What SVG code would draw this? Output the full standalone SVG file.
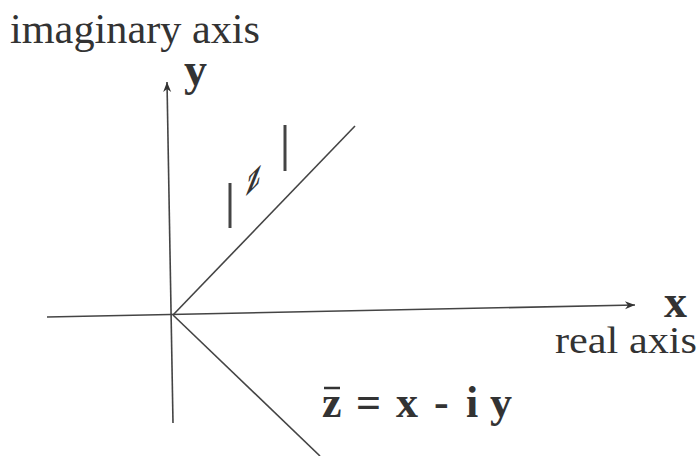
<svg xmlns="http://www.w3.org/2000/svg" width="699" height="456" viewBox="0 0 699 456">
<defs>
<marker id="arr" viewBox="0 0 10 10" refX="10" refY="5" markerWidth="12" markerHeight="10" markerUnits="userSpaceOnUse" orient="auto">
<path d="M0,1 L10,5 L0,9 L3,5 Z" fill="#333"/>
</marker>
<style>
.ax{stroke:#444;stroke-width:1.6;fill:none}
.t{font-family:"Liberation Serif",serif;fill:#333}
.b{font-family:"Liberation Serif",serif;font-weight:bold;fill:#333}
</style>
</defs>
<rect width="699" height="456" fill="#fff"/>
<g id="connectors">
<line class="ax" x1="173" y1="423" x2="167" y2="82" marker-end="url(#arr)"/>
<line class="ax" x1="47" y1="317" x2="635" y2="305" marker-end="url(#arr)"/>
<line class="ax" x1="173" y1="315" x2="355" y2="126"/>
<line class="ax" x1="173" y1="315" x2="320" y2="456"/>
</g>
<g id="imag-label"><text class="t" x="10" y="43" font-size="42" textLength="250" lengthAdjust="spacingAndGlyphs">imaginary axis</text></g>
<g id="y-label"><text class="b" x="184" y="85" font-size="46">y</text></g>
<g id="x-label"><text class="b" x="664" y="317" font-size="46">x</text></g>
<g id="real-label"><text class="t" x="555" y="353" font-size="38" textLength="142" lengthAdjust="spacingAndGlyphs">real axis</text></g>
<g id="mod-label">
<line x1="230" y1="183" x2="230" y2="228" stroke="#444" stroke-width="3"/>
<line x1="285" y1="125" x2="285" y2="171" stroke="#444" stroke-width="3"/>
<text class="b" x="0" y="0" font-size="36" font-style="italic" transform="translate(247,195) skewY(-45)">z</text>
</g>
<g id="conj-label">
<line x1="324" y1="388" x2="340" y2="388" stroke="#333" stroke-width="2.5"/>
<text class="b" y="417" font-size="44"><tspan x="322">z</tspan><tspan x="356">=</tspan><tspan x="396">x</tspan><tspan x="434">-</tspan><tspan x="466">i</tspan><tspan x="490">y</tspan></text>
</g>
</svg>
